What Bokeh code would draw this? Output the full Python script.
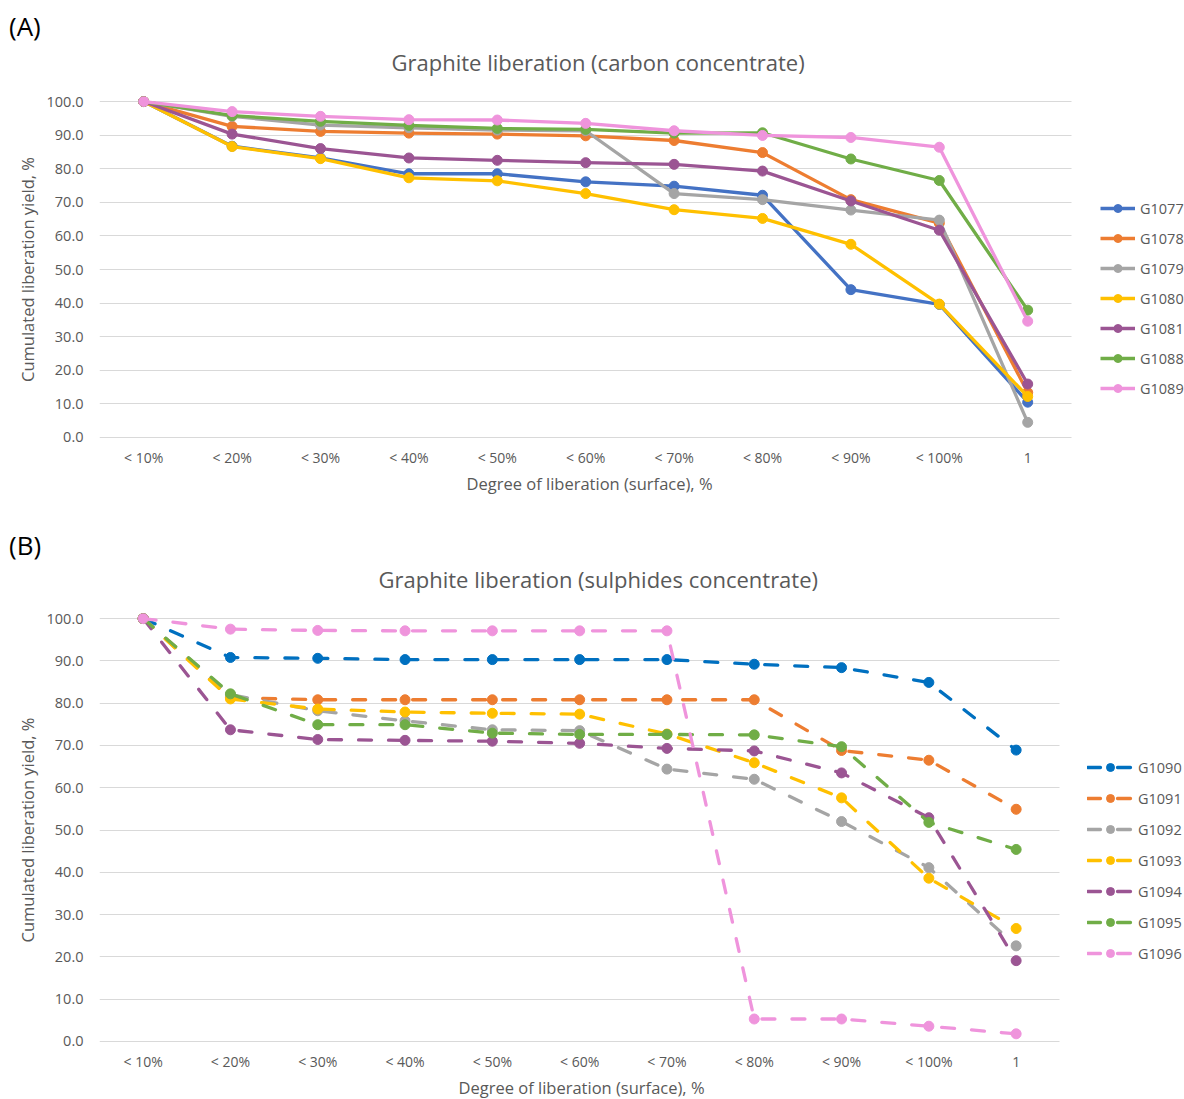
from bokeh.plotting import figure
from bokeh.models import (Range1d, FixedTicker, NumeralTickFormatter, Title,
                          Legend, LegendItem, Div)
from bokeh.layouts import column
from bokeh.embed import file_html
from bokeh.resources import INLINE

categories = ["< 10%", "< 20%", "< 30%", "< 40%", "< 50%", "< 60%",
              "< 70%", "< 80%", "< 90%", "< 100%", "1"]
y_ticks = [0, 10, 20, 30, 40, 50, 60, 70, 80, 90, 100]

names_a = ["G1077", "G1078", "G1079", "G1080", "G1081", "G1088", "G1089"]
G1077 = [100, 86.7, 83.2, 78.5, 78.5, 76.1, 74.8, 72.1, 44.0, 39.6, 10.5]
G1078 = [100, 92.6, 91.1, 90.6, 90.3, 89.8, 88.4, 84.8, 70.8, 63.8, 13.4]
G1079 = [100, 95.6, 93.0, 92.2, 91.5, 91.3, 72.6, 70.8, 67.7, 64.7, 4.5]
G1080 = [100, 86.6, 83.0, 77.3, 76.4, 72.6, 67.8, 65.2, 57.5, 39.7, 12.2]
G1081 = [100, 90.3, 86.0, 83.2, 82.5, 81.8, 81.3, 79.3, 70.4, 61.7, 15.9]
G1088 = [100, 95.8, 94.1, 92.9, 92.0, 91.7, 90.6, 90.7, 82.9, 76.5, 37.9]
G1089 = [100, 97.0, 95.6, 94.6, 94.5, 93.5, 91.3, 89.9, 89.3, 86.4, 34.6]
values_a = [G1077, G1078, G1079, G1080, G1081, G1088, G1089]
colors_a = ["#4472C4", "#ED7D31", "#A5A5A5", "#FFC000", "#9B5593", "#70AD47", "#EF94DC"]

names_b = ["G1090", "G1091", "G1092", "G1093", "G1094", "G1095", "G1096"]
G1090 = [100, 90.8, 90.6, 90.3, 90.3, 90.3, 90.3, 89.2, 88.4, 84.9, 68.9]
G1091 = [100, 81.3, 80.8, 80.8, 80.8, 80.8, 80.8, 80.8, 68.8, 66.5, 54.9]
G1092 = [100, 82.0, 78.2, 75.8, 73.7, 73.5, 64.4, 62.0, 52.0, 41.1, 22.6]
G1093 = [100, 81.0, 78.6, 77.9, 77.6, 77.4, 72.7, 65.9, 57.6, 38.6, 26.7]
G1094 = [100, 73.7, 71.4, 71.2, 71.0, 70.5, 69.3, 68.7, 63.5, 52.9, 19.1]
G1095 = [100, 82.2, 74.9, 74.9, 72.9, 72.6, 72.6, 72.5, 69.7, 51.8, 45.4]
G1096 = [100, 97.5, 97.2, 97.1, 97.1, 97.1, 97.1, 5.3, 5.3, 3.6, 1.8]
values_b = [G1090, G1091, G1092, G1093, G1094, G1095, G1096]
colors_b = ["#0070C0", "#ED7D31", "#A5A5A5", "#FFC000", "#9B5593", "#70AD47", "#EF94DC"]

x_title = "Degree of liberation (surface), %"
y_title = "Cumulated liberation yield, %"

FONT = "Open Sans"
TXT = "#595959"
W = 1184
x_idx = list(range(len(categories)))


def make_chart(title, title_offset, names, values, colors, dashed, height,
               fleft, fbottom, cat_px, pad, legend_loc, glyph_w, leg_spacing,
               xt_offset, xt_standoff):
    frame_w = W - fleft
    x_end = -0.5 + frame_w / cat_px
    p = figure(width=W, height=height, output_backend="svg", toolbar_location=None,
               x_range=Range1d(-0.5, x_end), y_range=Range1d(-pad, 100 + pad),
               min_border_left=fleft, min_border_right=0,
               min_border_top=0, min_border_bottom=fbottom)
    p.outline_line_color = None
    p.border_fill_alpha = 0
    p.add_layout(Title(text=title, align="left", offset=title_offset, text_font=FONT,
                       text_font_size="22px", text_font_style="normal",
                       text_color=TXT, standoff=39), "above")

    p.xgrid.visible = False
    p.ygrid.ticker = FixedTicker(ticks=y_ticks)
    p.ygrid.grid_line_color = "#D9D9D9"
    p.ygrid.grid_line_width = 1
    p.ygrid.cross_bounds = (-0.5, len(categories) - 0.5)

    p.xaxis.ticker = FixedTicker(ticks=x_idx)
    p.xaxis.major_label_overrides = {i: c for i, c in zip(x_idx, categories)}
    p.xaxis.bounds = (-0.5, len(categories) - 0.5)
    p.yaxis.ticker = FixedTicker(ticks=y_ticks)
    p.yaxis.formatter = NumeralTickFormatter(format="0.0")
    for ax in (p.xaxis[0], p.yaxis[0]):
        ax.axis_line_color = None
        ax.major_tick_line_color = None
        ax.minor_tick_line_color = None
        ax.major_tick_out = 0
        ax.major_tick_in = 0
        ax.minor_tick_out = 0
        ax.major_label_text_font = FONT
        ax.major_label_text_color = TXT
        ax.axis_label_text_font = FONT
        ax.axis_label_text_font_size = "16.5px"
        ax.axis_label_text_font_style = "normal"
        ax.axis_label_text_color = TXT
    p.xaxis.major_label_text_font_size = "14px"
    p.yaxis.major_label_text_font_size = "14.5px"
    p.yaxis.axis_label = y_title
    p.xaxis.major_label_standoff = 5
    p.yaxis.major_label_standoff = 16
    p.yaxis.axis_label_standoff = 5
    # x-axis title, placed below the tick labels and aligned like the original
    p.add_layout(Title(text=x_title, align="left", offset=xt_offset, text_font=FONT,
                       text_font_size="16.5px", text_font_style="normal",
                       text_color=TXT, standoff=xt_standoff,
                       vertical_align="bottom"), "below")

    items = []
    for name, vals, col in zip(names, values, colors):
        kw = dict(line_color=col, line_width=3.3, line_join="round")
        if dashed:
            kw["line_dash"] = "13 17"
            kw["line_cap"] = "round"
        r1 = p.line(x_idx, vals, **kw)
        r2 = p.scatter(x_idx, vals, size=10, fill_color=col, line_color=col)
        items.append(LegendItem(label=name, renderers=[r1, r2]))

    leg = Legend(items=items, location=legend_loc)
    leg.background_fill_alpha = 0
    leg.border_line_color = None
    leg.padding = 0
    leg.margin = 0
    leg.spacing = leg_spacing
    leg.glyph_width = glyph_w
    leg.glyph_height = 20
    leg.label_standoff = 5
    leg.label_text_font = FONT
    leg.label_text_font_size = "14.5px"
    leg.label_text_color = TXT
    leg.label_height = 20
    p.add_layout(leg)
    return p


div_style = {"font-size": "26px", "font-family": FONT, "color": "#000",
             "padding-top": "10px", "padding-left": "9px", "line-height": "32px",
             "overflow": "visible", "white-space": "nowrap"}
div_a = Div(text="(A)", width=100, height=25, margin=(0, 0, 0, 0), styles=div_style)
fig_a = make_chart("Graphite liberation (carbon concentrate)", 292, names_a, values_a, colors_a,
                   False, 494, 99, 77, 88.4, 1.5, (1001, 44), 35, 10, 367, 1)

div_b = Div(text="(B)", width=100, height=23, margin=(0, 0, 0, 0), styles=div_style)
fig_b = make_chart("Graphite liberation (sulphides concentrate)", 279, names_b, values_b, colors_b,
                   True, 557, 99, 53, 87.3, 1.2, (988, 83), 46, 11, 359, 0)

layout = column(div_a, fig_a, div_b, fig_b, spacing=0)
open("out.html", "w").write(file_html(layout, INLINE))
